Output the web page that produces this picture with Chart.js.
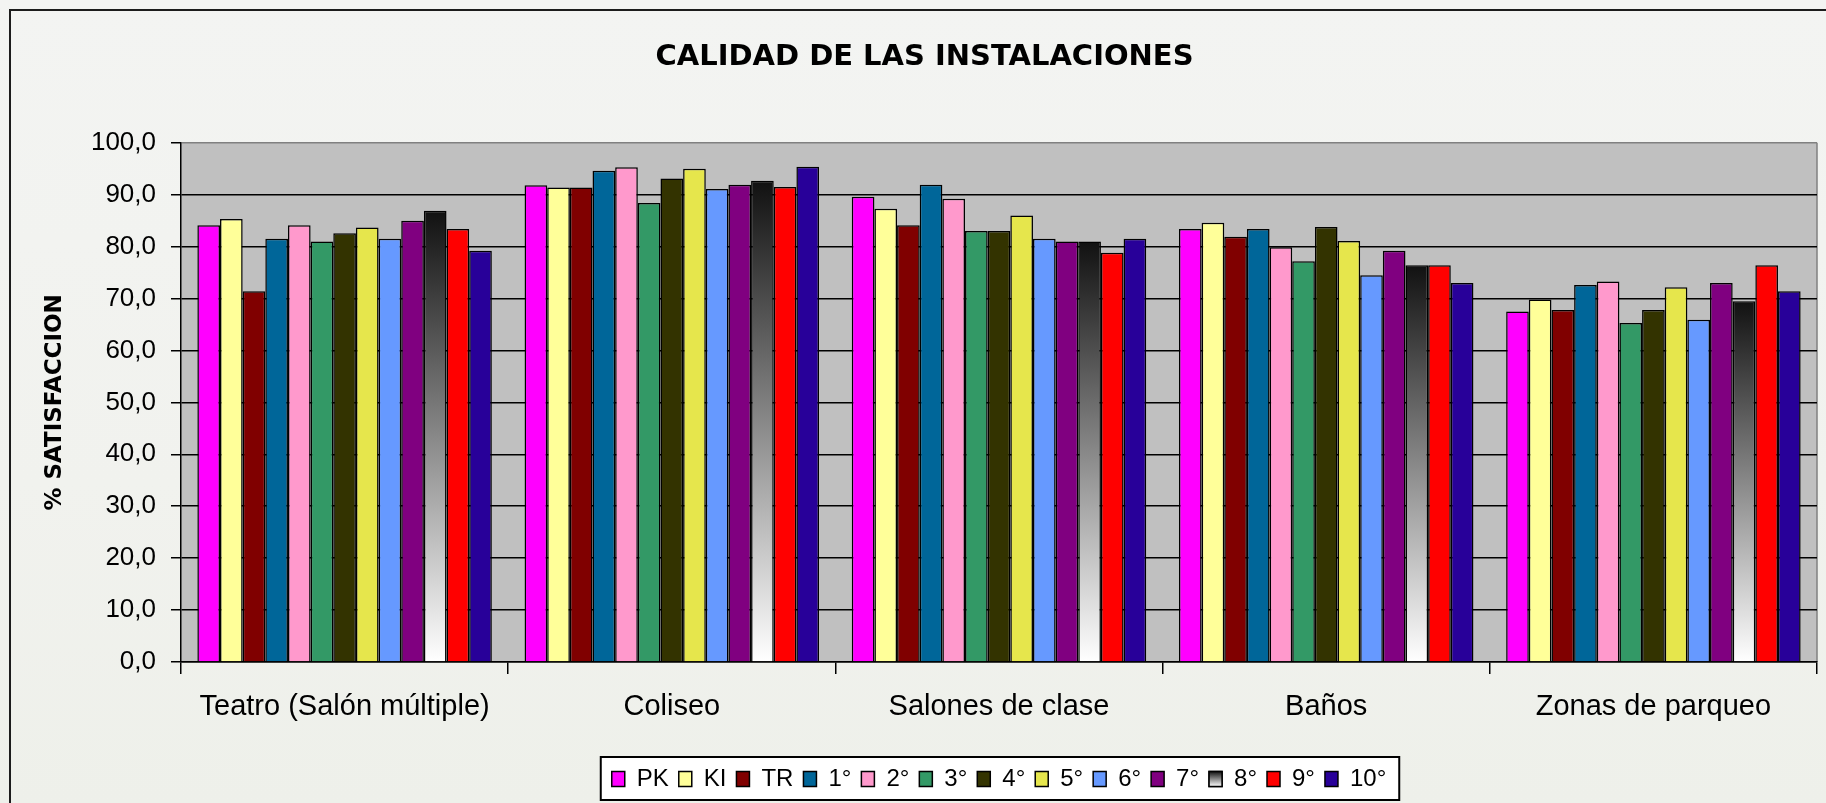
<!DOCTYPE html>
<html>
<head>
<meta charset="utf-8">
<script src="https://cdn.jsdelivr.net/npm/chart.js@4.4.1/dist/chart.umd.min.js"></script>
<style>
    html, body { margin: 0; padding: 0; }
    body {
        width: 1826px; height: 803px; overflow: hidden; position: relative;
        background: linear-gradient(180deg, #f3f4f2 0%, #f1f2ee 60%, #eef0ea 100%);
    }
    #frame {
        position: absolute; left: 9px; top: 9px; width: 1900px; height: 900px;
        border: 2px solid #1c1c1c;
    }
    #wrap { position: absolute; left: 0; top: 0; width: 1826px; height: 803px; }
</style>
</head>
<body>
<div id="frame"></div>
<div id="wrap"><canvas id="chart"></canvas></div>
<script>
const categories = ['Teatro (Salón múltiple)', 'Coliseo', 'Salones de clase', 'Baños', 'Zonas de parqueo'];
const seriesNames = ['PK', 'KI', 'TR', '1°', '2°', '3°', '4°', '5°', '6°', '7°', '8°', '9°', '10°'];

const pk  = [84.1, 91.8, 89.6, 83.4, 67.5];
const ki  = [85.3, 91.4, 87.3, 84.6, 69.8];
const tr  = [71.4, 91.4, 84.1, 81.9, 67.8];
const g1  = [81.5, 94.6, 91.9, 83.4, 72.6];
const g2  = [84.1, 95.3, 89.2, 79.9, 73.3];
const g3  = [81.0, 88.4, 83.0, 77.2, 65.3];
const g4  = [82.6, 93.1, 83.0, 83.8, 67.8];
const g5  = [83.7, 95.0, 86.0, 81.1, 72.2];
const g6  = [81.5, 91.1, 81.5, 74.5, 65.9];
const g7  = [85.0, 91.9, 81.0, 79.2, 73.0];
const g8  = [86.9, 92.7, 81.0, 76.4, 69.5];
const g9  = [83.4, 91.5, 78.8, 76.4, 76.4];
const g10 = [79.2, 95.4, 81.5, 73.0, 71.4];

const yTicks = [0, 10, 20, 30, 40, 50, 60, 70, 80, 90, 100];

const seriesValues = [pk, ki, tr, g1, g2, g3, g4, g5, g6, g7, g8, g9, g10];
const colors = ['#ff00ff', '#ffff99', '#800000', '#006699', '#ff99cc', '#339966',
                '#333300', '#e6e64c', '#6699ff', '#800080', null, '#ff0000', '#280099'];

// black -> white gradient, one per bar
function gradientFill(c) {
    if (c.type !== 'data') return '#888888';
    const chart = c.chart;
    const y = chart.scales.y;
    if (!y || !chart.chartArea) return '#888888';
    const top = y.getPixelForValue(c.raw);
    const bottom = y.getPixelForValue(0);
    const g = chart.ctx.createLinearGradient(0, top, 0, bottom);
    g.addColorStop(0, '#111111');
    g.addColorStop(1, '#ffffff');
    return g;
}

const datasets = seriesNames.map((name, i) => ({
    label: name,
    data: seriesValues[i],
    backgroundColor: colors[i] || gradientFill,
    borderColor: '#000000',
    borderWidth: 1.5,
    categoryPercentage: 0.9,
    barPercentage: 1.0
}));

const plotBackground = {
    id: 'plotBackground',
    beforeDraw(chart) {
        const { ctx, chartArea: a } = chart;
        ctx.save();
        ctx.fillStyle = '#c0c0c0';
        ctx.fillRect(a.left, a.top, a.right - a.left, a.bottom - a.top);
        ctx.strokeStyle = '#808080';
        ctx.lineWidth = 1.5;
        ctx.beginPath();
        ctx.moveTo(a.right, a.top);
        ctx.lineTo(a.right, a.bottom);
        ctx.stroke();

        // legend frame
        const hb = chart.legend.legendHitBoxes;
        if (hb && hb.length) {
            const first = hb[0], last = hb[hb.length - 1];
            const x0 = first.left - 11, x1 = last.left + last.width + 13;
            const y0 = first.top - 10, y1 = first.top + first.height + 9;
            ctx.fillStyle = '#ffffff';
            ctx.fillRect(x0, y0, x1 - x0, y1 - y0);
            ctx.strokeStyle = '#000000';
            ctx.lineWidth = 2;
            ctx.strokeRect(x0, y0, x1 - x0, y1 - y0);
        }
        ctx.restore();
    },
    afterDraw(chart) {
        // gradient swatch for 8°
        const hb = chart.legend.legendHitBoxes;
        if (!hb || !hb[10]) return;
        const opts = chart.options.plugins.legend.labels;
        const fs = opts.font.size;
        const x = hb[10].left, y = hb[10].top + Math.max((fs - opts.boxHeight) / 2, 0);
        const ctx = chart.ctx;
        ctx.save();
        const g = ctx.createLinearGradient(0, y, 0, y + opts.boxHeight);
        g.addColorStop(0, '#111111');
        g.addColorStop(1, '#ffffff');
        ctx.fillStyle = g;
        ctx.fillRect(x, y, opts.boxWidth, opts.boxHeight);
        ctx.strokeStyle = '#000000';
        ctx.lineWidth = 1.5;
        ctx.strokeRect(x, y, opts.boxWidth, opts.boxHeight);
        ctx.restore();
    }
};

new Chart(document.getElementById('chart'), {
    type: 'bar',
    data: { labels: categories, datasets: datasets },
    options: {
        responsive: true,
        maintainAspectRatio: false,
        animation: false,
        layout: { padding: { left: 32, right: 9, top: 0, bottom: 2 } },
        plugins: {
            title: {
                display: true,
                text: 'CALIDAD DE LAS INSTALACIONES',
                color: '#000000',
                font: { family: 'DejaVu Sans', size: 29, weight: 'bold' },
                padding: { top: 40, bottom: 68 }
            },
            legend: {
                position: 'bottom',
                fullSize: false,
                labels: {
                    color: '#000000',
                    font: { family: 'Liberation Sans', size: 24 },
                    boxWidth: 13,
                    boxHeight: 15,
                    padding: 10
                }
            },
            tooltip: { enabled: false }
        },
        scales: {
            x: {
                offset: true,
                grid: {
                    offset: true,
                    drawOnChartArea: false,
                    drawTicks: true,
                    tickLength: 12,
                    color: '#000000',
                    lineWidth: 1.5
                },
                border: { display: true, color: '#000000', width: 1.5 },
                ticks: {
                    color: '#000000',
                    font: { family: 'Liberation Sans', size: 29 },
                    padding: 16,
                    maxRotation: 0
                },
                afterFit(scale) { scale.height = 95; }
            },
            y: {
                min: 0,
                max: 100,
                afterBuildTicks(scale) { scale.ticks = yTicks.map(v => ({ value: v })); },
                grid: {
                    color: c => (c.tick && c.tick.value === 100 ? '#808080' : '#000000'),
                    tickColor: '#000000',
                    lineWidth: 1.5,
                    tickLength: 10
                },
                border: { display: true, color: '#000000', width: 1.5 },
                ticks: {
                    color: '#000000',
                    font: { family: 'Liberation Sans', size: 26 },
                    padding: 15,
                    callback: v => v.toFixed(1).replace('.', ',')
                },
                title: {
                    display: true,
                    text: '% SATISFACCION',
                    color: '#000000',
                    font: { family: 'DejaVu Sans', size: 23, weight: 'bold' },
                    padding: { top: 9, bottom: 0 }
                },
                afterFit(scale) { scale.width = 149; }
            }
        }
    },
    plugins: [plotBackground]
});
</script>
</body>
</html>
